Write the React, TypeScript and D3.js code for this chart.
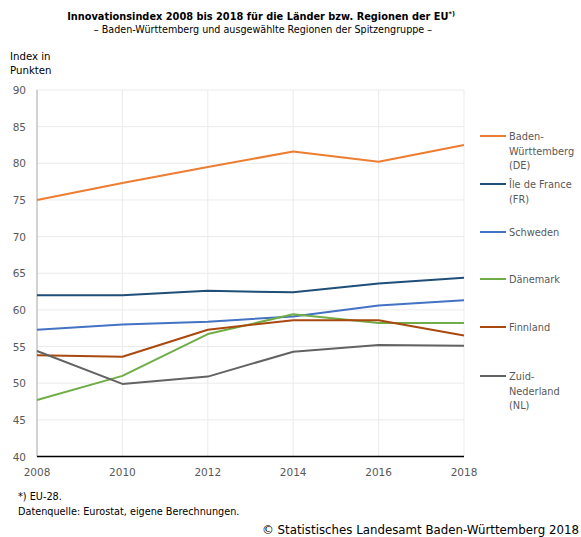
import React, { useEffect, useRef } from 'react'
import * as d3 from 'd3'

const years = [2008, 2010, 2012, 2014, 2016, 2018]
const yTicks = [40, 45, 50, 55, 60, 65, 70, 75, 80, 85, 90]

const badenWuerttemberg = [75.0, 77.3, 79.5, 81.6, 80.2, 82.5]
const ileDeFrance = [62.0, 62.0, 62.6, 62.4, 63.6, 64.4]
const schweden = [57.3, 58.0, 58.4, 59.1, 60.6, 61.3]
const daenemark = [47.7, 51.0, 56.7, 59.4, 58.2, 58.2]
const finnland = [53.8, 53.6, 57.3, 58.6, 58.6, 56.5]
const zuidNederland = [54.4, 49.9, 50.9, 54.3, 55.2, 55.1]

const seriesNames = [
    ["Baden-", "Württemberg", "(DE)"],
    ["Île de France", "(FR)"],
    ["Schweden"],
    ["Dänemark"],
    ["Finnland"],
    ["Zuid-", "Nederland", "(NL)"],
]
const seriesValues = [badenWuerttemberg, ileDeFrance, schweden, daenemark, finnland, zuidNederland]
const seriesColors = ["#ed7d31", "#1f4e79", "#4472c4", "#70ad47", "#a9480f", "#636363"]
const legendY = [136, 184, 232, 279, 327, 376]

export default function App() {
    const svgRef = useRef<SVGSVGElement>(null)
    const width = 581
    const height = 537

    useEffect(() => {
        if (!svgRef.current) return
        const svg = d3.select(svgRef.current)
        svg.selectAll("*").remove()

        const font = "'DejaVu Sans', Verdana, sans-serif"
        const textColor = "#595959"

        const x = d3.scaleLinear().domain([2008, 2018]).range([37, 464])
        const y = d3.scaleLinear().domain([40, 90]).range([456.5, 90])

        // gridlines
        svg.append("g")
            .selectAll("line")
            .data(yTicks.slice(1))
            .enter().append("line")
            .attr("x1", x(2008)).attr("x2", x(2018))
            .attr("y1", d => y(d)).attr("y2", d => y(d))
            .attr("stroke", "#ebebeb").attr("stroke-width", 1)

        svg.append("g")
            .selectAll("line")
            .data(years.slice(1))
            .enter().append("line")
            .attr("x1", d => x(d)).attr("x2", d => x(d))
            .attr("y1", y(90)).attr("y2", y(40))
            .attr("stroke", "#ebebeb").attr("stroke-width", 1)

        // axes lines
        svg.append("line")
            .attr("x1", x(2008)).attr("x2", x(2008))
            .attr("y1", y(90)).attr("y2", y(40))
            .attr("stroke", "#a6a6a6")
        svg.append("line")
            .attr("x1", x(2008)).attr("x2", x(2018))
            .attr("y1", y(40)).attr("y2", y(40))
            .attr("stroke", "#000").attr("stroke-width", 1.3)

        // tick labels
        svg.append("g")
            .selectAll("text")
            .data(yTicks)
            .enter().append("text")
            .attr("x", 26).attr("y", d => y(d) + 4)
            .attr("text-anchor", "end")
            .attr("font-family", font).attr("font-size", 10.5)
            .attr("fill", textColor)
            .text(d => d)

        svg.append("g")
            .selectAll("text")
            .data(years)
            .enter().append("text")
            .attr("x", d => x(d)).attr("y", 476)
            .attr("text-anchor", "middle")
            .attr("font-family", font).attr("font-size", 10.5)
            .attr("fill", textColor)
            .text(d => d)

        // lines
        const line = d3.line<number>()
            .x((_, i) => x(years[i]))
            .y(d => y(d))

        seriesValues.forEach((vals, i) => {
            svg.append("path")
                .datum(vals)
                .attr("d", line)
                .attr("fill", "none")
                .attr("stroke", seriesColors[i])
                .attr("stroke-width", 2)
                .attr("stroke-linejoin", "round")
        })

        // legend
        seriesNames.forEach((lines, i) => {
            const g = svg.append("g")
            g.append("line")
                .attr("x1", 480).attr("x2", 506)
                .attr("y1", legendY[i]).attr("y2", legendY[i])
                .attr("stroke", seriesColors[i]).attr("stroke-width", 2)
            lines.forEach((t, j) => {
                g.append("text")
                    .attr("x", 509).attr("y", legendY[i] + 4 + j * 14.5)
                    .attr("font-family", font).attr("font-size", 9.8)
                    .attr("fill", textColor)
                    .text(t)
            })
        })

        // title
        const title = svg.append("text")
            .attr("x", 261).attr("y", 20)
            .attr("text-anchor", "middle")
            .attr("font-family", font).attr("font-size", 9.8)
            .attr("font-weight", "bold")
            .attr("fill", "#000")
        title.append("tspan").text("Innovationsindex 2008 bis 2018 für die Länder bzw. Regionen der EU")
        title.append("tspan").attr("font-size", 6.5).attr("dy", -4).text("*)")

        svg.append("text")
            .attr("x", 263).attr("y", 33)
            .attr("text-anchor", "middle")
            .attr("font-family", font).attr("font-size", 9.6)
            .attr("fill", "#000")
            .text("– Baden-Württemberg und ausgewählte Regionen der Spitzengruppe –")

        svg.append("text")
            .attr("x", 10).attr("y", 60)
            .attr("font-family", font).attr("font-size", 10.2)
            .attr("fill", "#000")
            .text("Index in")
        svg.append("text")
            .attr("x", 10).attr("y", 74)
            .attr("font-family", font).attr("font-size", 10.2)
            .attr("fill", "#000")
            .text("Punkten")

        // footnotes
        svg.append("text")
            .attr("x", 18).attr("y", 500)
            .attr("font-family", font).attr("font-size", 9.7)
            .attr("fill", "#000")
            .text("*) EU-28.")
        svg.append("text")
            .attr("x", 18).attr("y", 515)
            .attr("font-family", font).attr("font-size", 9.7)
            .attr("fill", "#000")
            .text("Datenquelle: Eurostat, eigene Berechnungen.")
        svg.append("text")
            .attr("x", 579).attr("y", 534)
            .attr("text-anchor", "end")
            .attr("font-family", font).attr("font-size", 11.8)
            .attr("fill", "#000")
            .text("© Statistisches Landesamt Baden-Württemberg 2018")
    }, [])

    return (
        <svg ref={svgRef} width={width} height={height} viewBox={`0 0 ${width} ${height}`}
            style={{ position: 'absolute', left: 0, top: 0, background: '#fff' }} />
    )
}
